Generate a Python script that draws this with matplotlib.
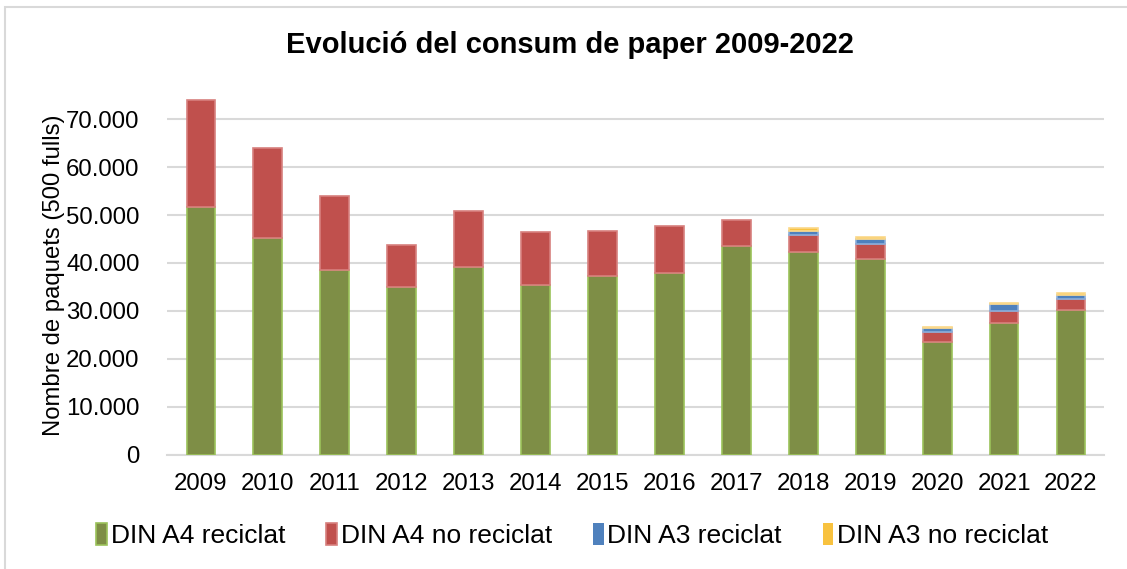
import numpy as np
import matplotlib
matplotlib.use("Agg")
import matplotlib.pyplot as plt
from matplotlib.patches import Rectangle
from matplotlib.ticker import FuncFormatter

years = ["2009", "2010", "2011", "2012", "2013", "2014", "2015",
         "2016", "2017", "2018", "2019", "2020", "2021", "2022"]

a4_reciclat = [51700, 45200, 38500, 35000, 39200, 35400, 37200,
               38000, 43500, 42300, 40800, 23500, 27400, 30200]
a4_no_reciclat = [22300, 18800, 15500, 8800, 11700, 11000, 9500,
                  9800, 5500, 3500, 3200, 2100, 2600, 2200]
a3_reciclat = [0, 0, 0, 0, 0, 0, 0,
               0, 0, 900, 1100, 800, 1500, 900]
a3_no_reciclat = [0, 0, 0, 0, 0, 0, 0,
                  0, 0, 500, 400, 200, 100, 450]

series = [
    ("DIN A4 reciclat", a4_reciclat, "#7E8E46", "#9BC25A"),
    ("DIN A4 no reciclat", a4_no_reciclat, "#C0504D", "#D7807E"),
    ("DIN A3 reciclat", a3_reciclat, "#4F81BD", "#8AAEDA"),
    ("DIN A3 no reciclat", a3_no_reciclat, "#F8C23F", "#FBD88A"),
]

plt.rcParams['font.family'] = ['Liberation Sans', 'DejaVu Sans']

fig = plt.figure(figsize=(11.27, 5.69), dpi=100)
ax = fig.add_axes([0.1486, 0.2004, 0.8314, 0.6326])

# light frame round the chart (right and bottom sides fall outside the picture)
fig.patches.append(Rectangle((5 / 1127, -0.05), 1.2, 1 - 7 / 569 + 0.05,
                             transform=fig.transFigure, fill=False,
                             edgecolor="#D9D9D9", linewidth=1.5))

x = np.arange(len(years))
bottom = np.zeros(len(years))
for name, vals, fc, ec in series:
    vals = np.array(vals, dtype=float)
    # no outline on empty segments, else a thin line shows on top of the bar
    lw = np.where(vals > 0, 1.2, 0.0)
    ax.bar(x, vals, width=0.43, bottom=bottom, color=fc, edgecolor=ec,
           linewidth=lw, label=name, zorder=3)
    bottom += vals

ax.set_xlim(-0.5, len(years) - 0.5)
ax.set_ylim(0, 75000)
ax.set_yticks(np.arange(0, 70001, 10000))
ax.yaxis.set_major_formatter(FuncFormatter(lambda v, p: f"{int(v):,}".replace(",", ".")))
ax.set_xticks(x)
ax.set_xticklabels(years)

ax.grid(axis="y", color="#D9D9D9", linewidth=1.5, zorder=0)
for s in ["top", "right", "left"]:
    ax.spines[s].set_visible(False)
ax.spines["bottom"].set_color("#D9D9D9")
ax.spines["bottom"].set_linewidth(1.5)
ax.tick_params(axis="both", length=0, labelsize=17.3, colors="black")
ax.tick_params(axis="x", pad=13)
ax.tick_params(axis="y", pad=20)

ax.set_ylabel("Nombre de paquets (500 fulls)", fontsize=17.2, labelpad=1)
fig.text(0.506, 0.921, "Evolució del consum de paper 2009-2022",
         ha="center", va="center", fontsize=21, fontweight="bold")

fig.legend(loc="center", bbox_to_anchor=(0.508, 0.059), ncol=4, frameon=False,
           fontsize=19, handlelength=0.4, handleheight=0.9, handletextpad=0.15,
           columnspacing=1.55)

fig.savefig("out.png", dpi=100)
